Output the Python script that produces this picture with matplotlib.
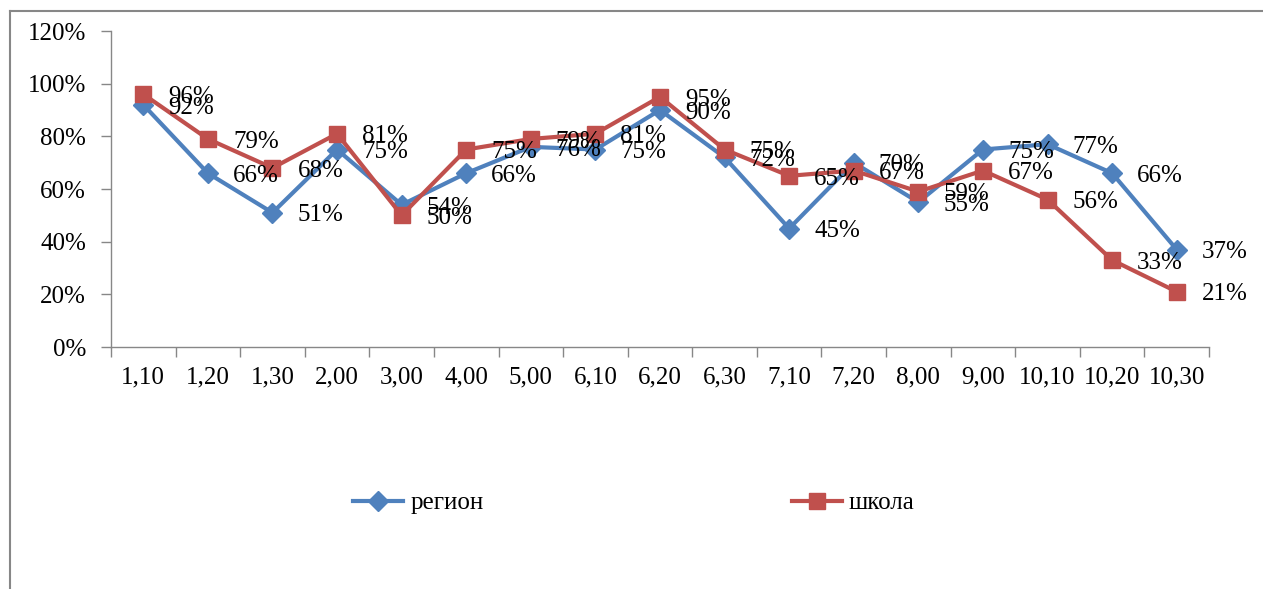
import numpy as np
import matplotlib.pyplot as plt
from matplotlib.lines import Line2D
from matplotlib.ticker import FixedLocator, PercentFormatter

categories = ["1,10", "1,20", "1,30", "2,00", "3,00", "4,00", "5,00", "6,10", "6,20",
              "6,30", "7,10", "7,20", "8,00", "9,00", "10,10", "10,20", "10,30"]
region = [92, 66, 51, 75, 54, 66, 76, 75, 90, 72, 45, 70, 55, 75, 77, 66, 37]
school = [96, 79, 68, 81, 50, 75, 79, 81, 95, 75, 65, 67, 59, 67, 56, 33, 21]

blue = "#4F81BD"
red = "#C0504D"
grey = "#878787"

plt.rcParams["font.family"] = ["Liberation Serif", "DejaVu Serif"]
plt.rcParams["font.size"] = 18

fig = plt.figure(figsize=(12.63, 5.89), dpi=100)
ax = fig.add_axes([111 / 1263, 1 - 347 / 589, (1209 - 111) / 1263, (347 - 31) / 589])

x = np.arange(len(categories))
ax.plot(x, region, color=blue, lw=3, marker="D", ms=10, mfc=blue, mec=blue,
        label="регион", zorder=3)
ax.plot(x, school, color=red, lw=3, marker="s", ms=12, mfc=red, mec=red,
        label="школа", zorder=4)

# data labels sit to the right of each point, like the original
for xi, v in zip(x, region):
    ax.annotate(f"{v}%", (xi, v), xytext=(18, -2), textcoords="offset points",
                ha="left", va="center", zorder=5)
for xi, v in zip(x, school):
    ax.annotate(f"{v}%", (xi, v), xytext=(18, -2), textcoords="offset points",
                ha="left", va="center", zorder=5)

ax.set_xlim(-0.5, len(categories) - 0.5)
ax.set_ylim(0, 120)
ax.set_yticks(np.arange(0, 121, 20))
ax.yaxis.set_major_formatter(PercentFormatter(decimals=0))
ax.set_xticks(x)
ax.set_xticklabels(categories)
ax.xaxis.set_minor_locator(FixedLocator(np.arange(-0.5, len(categories), 1.0)))
ax.tick_params(axis="x", which="major", length=0, pad=14)
ax.tick_params(axis="x", which="minor", length=7, color=grey, width=1, direction="out")
ax.tick_params(axis="y", length=7, color=grey, width=1, direction="out", pad=11)

for side in ["top", "right"]:
    ax.spines[side].set_visible(False)
for side in ["left", "bottom"]:
    ax.spines[side].set_color(grey)
    ax.spines[side].set_linewidth(1)

handles = [
    Line2D([], [], color=blue, lw=3, marker="D", ms=10, mfc=blue, mec=blue),
    Line2D([], [], color=red, lw=3, marker="s", ms=12, mfc=red, mec=red),
]
fig.legend(handles, ["регион", "школа"], loc="center",
           bbox_to_anchor=(0.502, 1 - 503 / 589), ncol=2, frameon=False,
           columnspacing=12.3, handlelength=2.0, handletextpad=0.3)

# chart area border (left and top only visible)
fig.add_artist(Line2D([10 / 1263, 10 / 1263], [0, 1 - 11 / 589], transform=fig.transFigure,
                      color=grey, lw=1.5))
fig.add_artist(Line2D([10 / 1263, 1], [1 - 11 / 589, 1 - 11 / 589], transform=fig.transFigure,
                      color=grey, lw=1.5))

fig.savefig("out.png", dpi=100)
